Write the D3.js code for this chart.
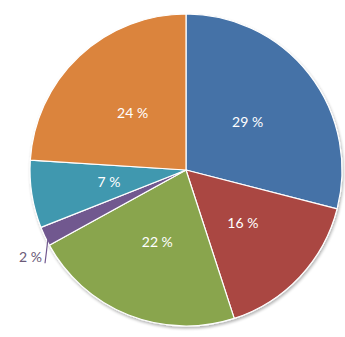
<!DOCTYPE html>
<html>
<head>
<meta charset="utf-8">
<script src="https://cdn.jsdelivr.net/npm/d3@7"></script>
<style>
  body { margin: 0; background: #fff; }
  svg text { font-family: Lato, "Open Sans", sans-serif; }
</style>
</head>
<body>
<div id="pie-chart"></div>
<script>
// Slice data, clockwise from 12 o'clock
const categories = ["A", "B", "C", "D", "E", "F"];
const values = [29, 16, 22, 2, 7, 24];
const labels = ["29 %", "16 %", "22 %", "2 %", "7 %", "24 %"];
const colors = ["#4572A7", "#AA4643", "#89A54E", "#71588F", "#4198AF", "#DB843D"];

const svgWidth = 345;
const svgHeight = 337;
const cx = 186, cy = 170, radius = 156;

const svg = d3.select("#pie-chart")
    .append("svg")
    .attr("width", svgWidth)
    .attr("height", svgHeight);

// soft shadow round the pie
const defs = svg.append("defs");
const filter = defs.append("filter").attr("id", "shadow")
    .attr("x", "-10%").attr("y", "-10%").attr("width", "120%").attr("height", "120%");
filter.append("feGaussianBlur").attr("in", "SourceAlpha").attr("stdDeviation", 1.5);
filter.append("feOffset").attr("dx", 1).attr("dy", 1.5).attr("result", "blur");
filter.append("feComponentTransfer").append("feFuncA").attr("type", "linear").attr("slope", 0.3);
const merge = filter.append("feMerge");
merge.append("feMergeNode");
merge.append("feMergeNode").attr("in", "SourceGraphic");

const g = svg.append("g").attr("transform", `translate(${cx},${cy})`);

const pie = d3.pie().sort(null).value(d => d);
const arcs = pie(values);

const arc = d3.arc().innerRadius(0).outerRadius(radius);
const labelArc = d3.arc().innerRadius(radius * 0.5).outerRadius(radius * 0.5);

g.append("g").attr("filter", "url(#shadow)")
    .selectAll("path")
    .data(arcs)
    .enter().append("path")
    .attr("d", arc)
    .attr("fill", (d, i) => colors[i])
    .attr("stroke", "#fff")
    .attr("stroke-width", 1.2)
    .attr("stroke-linejoin", "round");

// labels inside the slices (the small one goes outside)
g.selectAll(".lbl")
    .data(arcs.filter((d, i) => values[i] >= 5))
    .enter().append("text")
    .attr("class", "lbl")
    .attr("transform", d => `translate(${labelArc.centroid(d)})`)
    .attr("text-anchor", "middle")
    .attr("dy", "0.35em")
    .attr("fill", "#fff")
    .attr("font-size", 14)
    .text(d => labels[d.index]);

// outside label with leader line
arcs.filter((d, i) => values[i] < 5).forEach(d => {
    const mid = (d.startAngle + d.endAngle) / 2;
    const p0 = [Math.sin(mid) * (radius - 4), -Math.cos(mid) * (radius - 4)];
    const p1 = [Math.sin(mid) * (radius + 2) + 2, -Math.cos(mid) * (radius + 2) + 26];
    g.append("line")
        .attr("x1", p0[0]).attr("y1", p0[1])
        .attr("x2", p1[0]).attr("y2", p1[1])
        .attr("stroke", "#71588F").attr("stroke-width", 1.2);
    g.append("text")
        .attr("x", p1[0] - 3).attr("y", p1[1] - 6)
        .attr("text-anchor", "end")
        .attr("dy", "0.35em")
        .attr("fill", "#6b5a78")
        .attr("font-size", 14)
        .text(labels[d.index]);
});
</script>
</body>
</html>
